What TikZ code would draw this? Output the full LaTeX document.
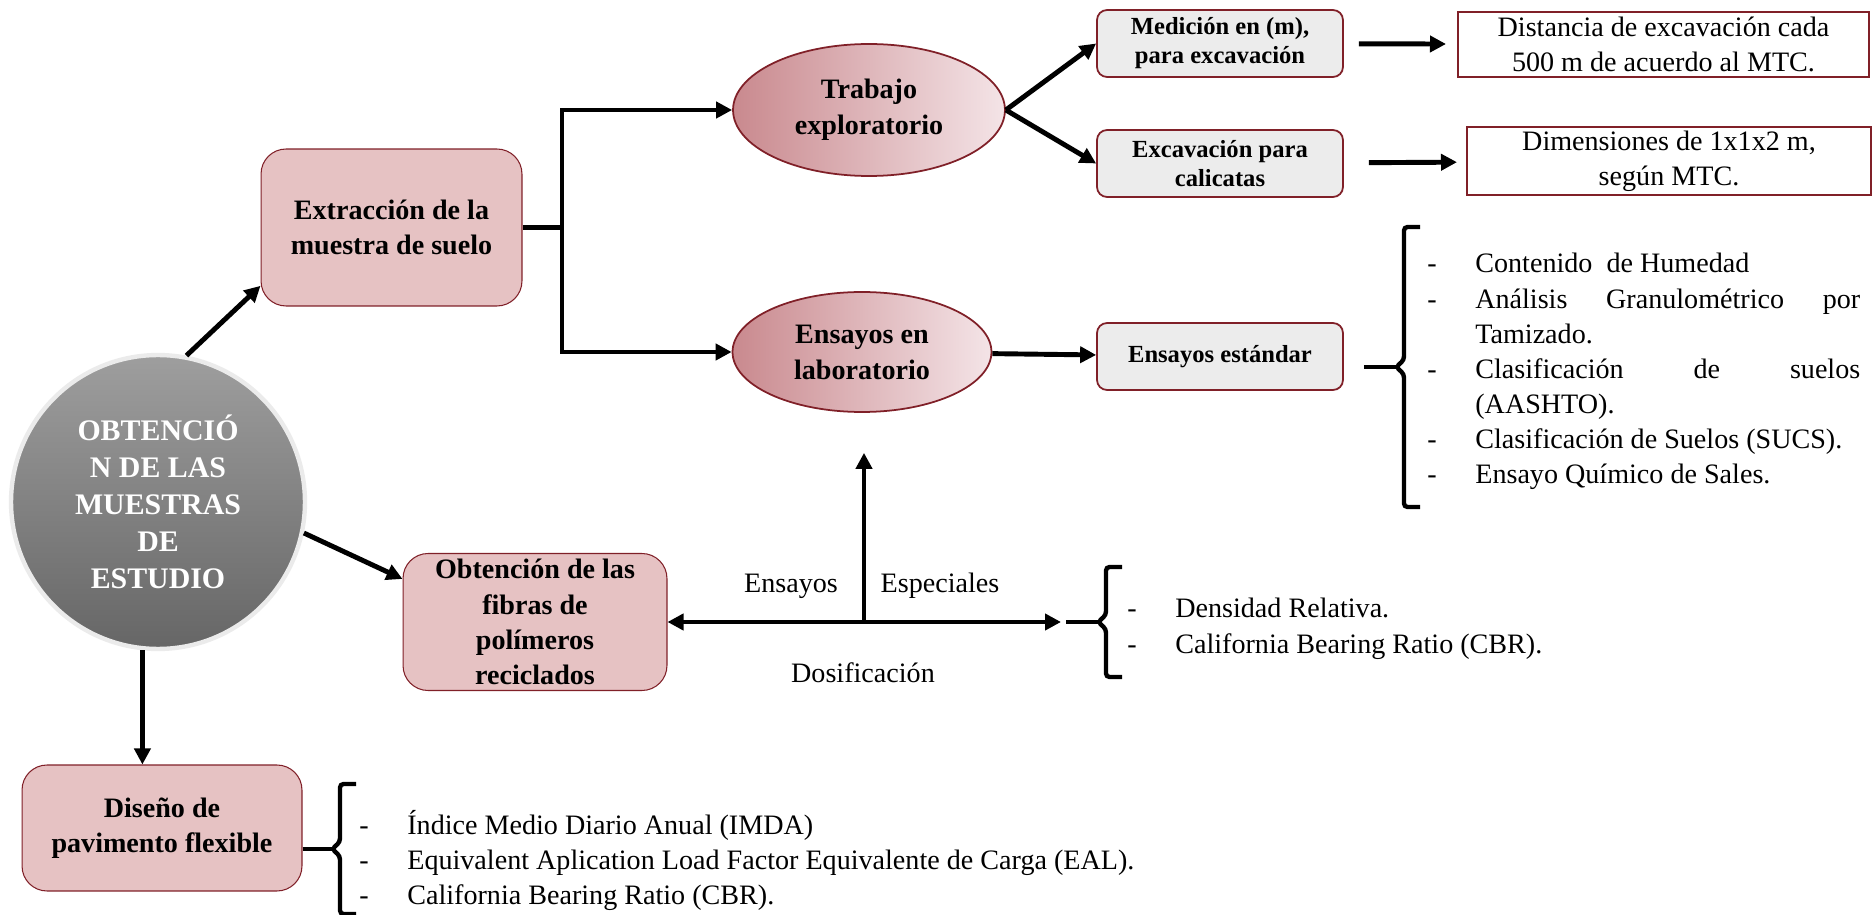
\documentclass[tikz,border=0pt]{standalone}
\usepackage{fontspec}
\setmainfont{Liberation Serif}
\usetikzlibrary{arrows.meta,positioning,shapes.geometric,calc}
\definecolor{bordo}{RGB}{128,32,40}
\definecolor{rosa}{RGB}{230,194,195}
\definecolor{gris}{RGB}{236,236,236}
\definecolor{rosaosc}{RGB}{201,137,142}
\definecolor{rosacla}{RGB}{244,228,231}
\tikzset{
    rosabox/.style={draw=bordo, fill=rosa, rounded corners=0.5cm, align=center,
        font=\fontsize{16}{20}\selectfont\bfseries, line width=0.6pt, inner sep=0pt},
    notabox/.style={draw=bordo, fill=white, align=center, inner sep=0pt,
        font=\fontsize{16}{20}\selectfont, line width=1.2pt},
    flecha/.style={-{Triangle[length=3.2mm,width=3.2mm]}, line width=2.8pt},
    linea/.style={line width=2.8pt}
}
\newcommand{\corchete}[2]{%
  \draw[line width=2.5pt, rounded corners=2pt] (#1) ++(24,-#2) -- ++(-16,0)
    -- ++(0,{#2-7}) -- ++(-8,7) -- ++(8,7) -- ++(0,{#2-7}) -- ++(16,0);}

\begin{document}
\begin{tikzpicture}[
    x=0.02cm, y=-0.02cm,
    grisbox/.style={draw=bordo, fill=gris, rounded corners=0.2cm, align=center,
        font=\fontsize{14}{16.5}\selectfont\bfseries, line width=1pt, inner sep=0pt,
        minimum width=4.92cm, minimum height=1.34cm},
    elipse/.style={ellipse, draw=bordo, line width=1pt, left color=rosaosc,
        right color=rosacla, align=center, inner sep=0pt,
        font=\fontsize{16}{20.5}\selectfont\bfseries},
    lista/.style={font=\fontsize{16}{20}\selectfont, inner sep=0pt, anchor=base west},
    etiqueta/.style={font=\fontsize{16}{20}\selectfont, inner sep=0pt}
]
\useasboundingbox (0,0) rectangle (1874,915);
\node[circle, minimum size=5.88cm, draw=black!8, line width=2.5pt,
    top color=black!38, bottom color=black!60, text=white, align=center,
    inner sep=0pt, font=\fontsize{17}{21}\selectfont\bfseries] (obtencion) at (158,502)
    {OBTENCIÓ\\N DE LAS\\MUESTRAS\\DE\\ESTUDIO};
\node[rosabox, minimum width=5.22cm, minimum height=3.14cm] (extraccion) at (391.5,227.5)
    {Extracción de la\\muestra de suelo};
\node[rosabox, minimum width=5.28cm, minimum height=2.74cm] (fibras) at (535,622)
    {Obtención de las\\fibras de\\polímeros\\reciclados};
\node[rosabox, minimum width=5.6cm, minimum height=2.52cm] (diseno) at (162,828)
    {Diseño de\\pavimento flexible};
\node[elipse, minimum width=5.44cm, minimum height=2.64cm] (trabajo) at (869,110)
    {Trabajo\\exploratorio};
\node[elipse, minimum width=5.18cm, minimum height=2.4cm] (ensayos) at (862,352)
    {Ensayos en\\laboratorio};
\node[grisbox] (medicion) at (1220,43.5) {Medición en (m),\\para excavación};
\node[grisbox] (excavacion) at (1220,163.5) {Excavación para\\calicatas};
\node[grisbox] (estandar) at (1220,356.5) {Ensayos estándar};
\node[notabox, minimum width=8.22cm, minimum height=1.3cm] (distancia) at (1663.5,44.5)
    {Distancia de excavación cada\\500 m de acuerdo al MTC.};
\node[notabox, minimum width=8.08cm, minimum height=1.36cm] (dimensiones) at (1669,161)
    {Dimensiones de 1x1x2 m,\\según MTC.};

\coordinate (rama) at (562,227.5);
\coordinate (cruce) at (864,622);
\coordinate (llave1) at (1396,367);
\coordinate (llave2) at (1098,622);
\coordinate (llave3) at (332,849);

\draw[flecha] (obtencion.79) -- (extraccion.204);
\draw[flecha] (obtencion.-12) -- (fibras.162);
\draw[flecha] (obtencion.264) -- (obtencion.264 |- diseno.north);
\draw[linea] (extraccion.east) -- (rama);
\draw[flecha] (rama) |- (trabajo.west);
\draw[flecha] (rama) |- (ensayos.west);
\draw[flecha] (trabajo.east) -- (medicion.west);
\draw[flecha] (trabajo.east) -- (excavacion.west);
\draw[flecha, shorten <=0.3cm, shorten >=0.22cm] (medicion) -- (distancia);
\draw[flecha, shorten <=0.5cm, shorten >=0.18cm] (excavacion) -- (dimensiones);
\draw[flecha] (ensayos) -- (estandar);
\draw[linea, shorten <=0.4cm] (estandar.east |- llave1) -- (llave1);
\corchete{llave1}{140}
\draw[{Triangle[length=3.2mm,width=3.2mm]}-{Triangle[length=3.2mm,width=3.2mm]},
    line width=2.8pt, shorten >=0.74cm] (fibras.east |- cruce) -- (llave2);
\draw[flecha, shorten >=0.8cm] (cruce) -- (cruce |- ensayos.south);
\draw[linea] (llave2) -- ++(-32,0);
\corchete{llave2}{55}
\draw[linea] (diseno.east |- llave3) -- (llave3);
\corchete{llave3}{65}

\node[etiqueta] (ensayo) at (791,586) {Ensayos};
\node[etiqueta] (especial) at (940,586) {Especiales};
\node[etiqueta] (dosis) at (863,673) {Dosificación};

\node[lista] (estandares) at (1427,273) {\begin{tabular}[t]{@{}p{0.96cm}@{}l@{}}
- & Contenido\ \ de Humedad\\
- & \makebox[7.7cm][s]{Análisis Granulométrico por}\\
  & Tamizado.\\
- & \makebox[7.7cm][s]{Clasificación de suelos}\\
  & (AASHTO).\\
- & Clasificación de Suelos (SUCS).\\
- & Ensayo Químico de Sales.
\end{tabular}};
\node[lista] (especiales) at (1127,618) {\begin{tabular}[t]{@{}p{0.96cm}@{}l@{}}
- & Densidad Relativa.\\
- & California Bearing Ratio (CBR).
\end{tabular}};
\node[lista] (pavimento) at (359,834) {\begin{tabular}[t]{@{}p{0.96cm}@{}l@{}}
- & Índice Medio Diario Anual (IMDA)\\
- & Equivalent Aplication Load Factor Equivalente de Carga (EAL).\\
- & California Bearing Ratio (CBR).
\end{tabular}};
\end{tikzpicture}
\end{document}
